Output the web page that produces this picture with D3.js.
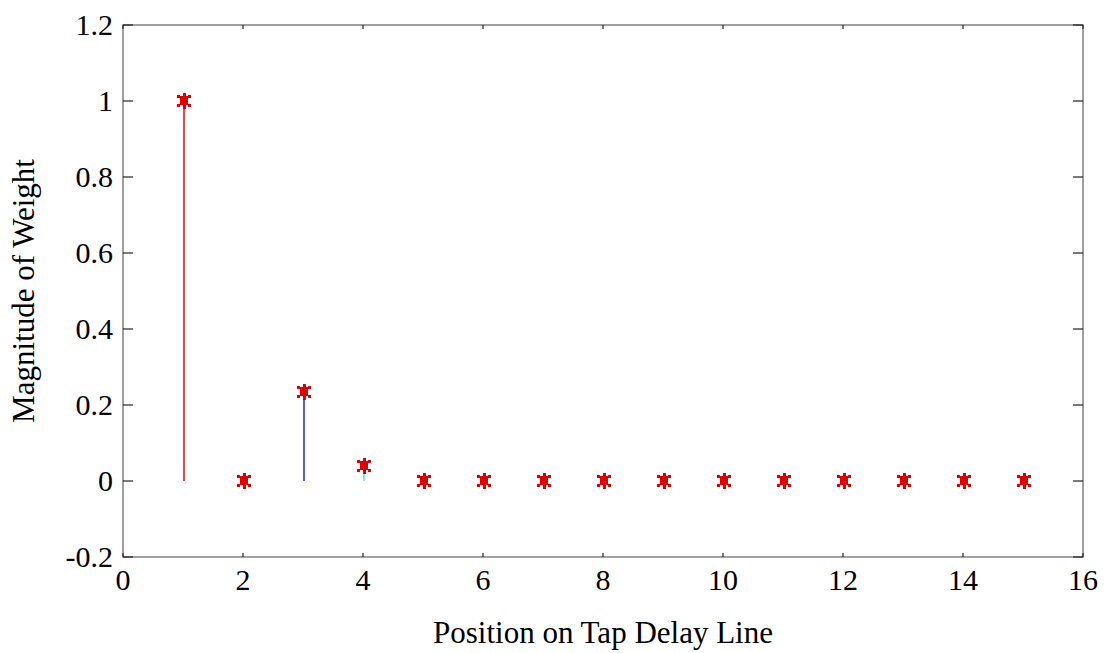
<!DOCTYPE html>
<html>
<head>
<style>
  body { margin: 0; background: #fff; }
  text { font-family: "Liberation Serif", "Times New Roman", serif; fill: #000; }
</style>
</head>
<body>
<svg width="1109" height="653"></svg>
<script src="https://d3js.org/d3.v7.min.js"></script>
<script>
// tap positions and weight magnitudes
var taps = d3.range(1, 16);
var weights = [1, 0, 0.235, 0.04, 0, 0, 0, 0, 0, 0, 0, 0, 0, 0, 0];
// stem colour per tap (only non-zero ones are visible)
var stemColors = ["#ff0000", "#0000ff", "#2020ff", "#5fd3ff", "#008000", "#008000", "#008000",
                  "#008000", "#008000", "#008000", "#008000", "#008000", "#008000", "#008000", "#008000"];
var xTicks = [0, 2, 4, 6, 8, 10, 12, 14, 16];
var yTicks = [-0.2, 0, 0.2, 0.4, 0.6, 0.8, 1, 1.2];

var svg = d3.select("svg");
var pl = 123, pr = 1083, pt = 25, pb = 557;

var x = d3.scaleLinear().domain([0, 16]).range([pl, pr]);
var y = d3.scaleLinear().domain([-0.2, 1.2]).range([pb, pt]);

var pts = taps.map(function(t, i) { return {t: t, w: weights[i], c: stemColors[i]}; });

// frame
svg.append("rect")
  .attr("x", pl).attr("y", pt)
  .attr("width", pr - pl).attr("height", pb - pt)
  .attr("fill", "none").attr("stroke", "#808080").attr("stroke-width", 1.5);

// ticks (inward, both sides)
var tk = svg.append("g").attr("stroke", "#222").attr("stroke-width", 1.2);
yTicks.forEach(function(v) {
  tk.append("line").attr("x1", pl).attr("x2", pl + 10).attr("y1", y(v)).attr("y2", y(v));
  tk.append("line").attr("x1", pr - 10).attr("x2", pr).attr("y1", y(v)).attr("y2", y(v));
});
xTicks.forEach(function(v) {
  tk.append("line").attr("x1", x(v)).attr("x2", x(v)).attr("y1", pb).attr("y2", pb - 4);
  tk.append("line").attr("x1", x(v)).attr("x2", x(v)).attr("y1", pt).attr("y2", pt + 4);
});

// stems
svg.append("g").selectAll("line")
  .data(pts.filter(function(d) { return d.w !== 0; }))
  .enter().append("line")
  .attr("x1", function(d) { return x(d.t) + 1; })
  .attr("x2", function(d) { return x(d.t) + 1; })
  .attr("y1", y(0))
  .attr("y2", function(d) { return y(d.w); })
  .attr("stroke", function(d) { return d.c; })
  .attr("stroke-width", 1.5);

// tick labels
svg.append("g").selectAll("text").data(yTicks).enter().append("text")
  .attr("x", pl - 10)
  .attr("y", function(d) { return y(d) + 10; })
  .attr("text-anchor", "end")
  .style("font-size", "30px")
  .text(function(d) { return String(+d.toFixed(1)); });

svg.append("g").selectAll("text").data(xTicks).enter().append("text")
  .attr("x", function(d) { return x(d); })
  .attr("y", 590)
  .attr("text-anchor", "middle")
  .style("font-size", "30px")
  .text(function(d) { return d; });

// axis labels
svg.append("text")
  .attr("x", (pl + pr) / 2).attr("y", 643)
  .attr("text-anchor", "middle")
  .style("font-size", "31px")
  .text("Position on Tap Delay Line");

svg.append("text")
  .attr("transform", "translate(34," + ((pt + pb) / 2) + ") rotate(-90)")
  .attr("text-anchor", "middle")
  .style("font-size", "31px")
  .text("Magnitude of Weight");

// pixel-style asterisk markers
var markerRects = [
  [-4, -5, 8, 9],   // centre block
  [-1, -8, 3, 4],   // top arm
  [-1, 3, 3, 5],    // bottom arm
  [-7, -6, 3, 3], [4, -6, 3, 3],
  [-7, 3, 3, 3], [4, 3, 3, 3]
];
var mk = svg.append("g").selectAll("g").data(pts).enter().append("g")
  .attr("transform", function(d) { return "translate(" + Math.round(x(d.t) + 1) + "," + Math.round(y(d.w)) + ")"; });
mk.selectAll("rect").data(markerRects).enter().append("rect")
  .attr("x", function(r) { return r[0]; })
  .attr("y", function(r) { return r[1]; })
  .attr("width", function(r) { return r[2]; })
  .attr("height", function(r) { return r[3]; })
  .attr("fill", "#e00000");
</script>
</body>
</html>
